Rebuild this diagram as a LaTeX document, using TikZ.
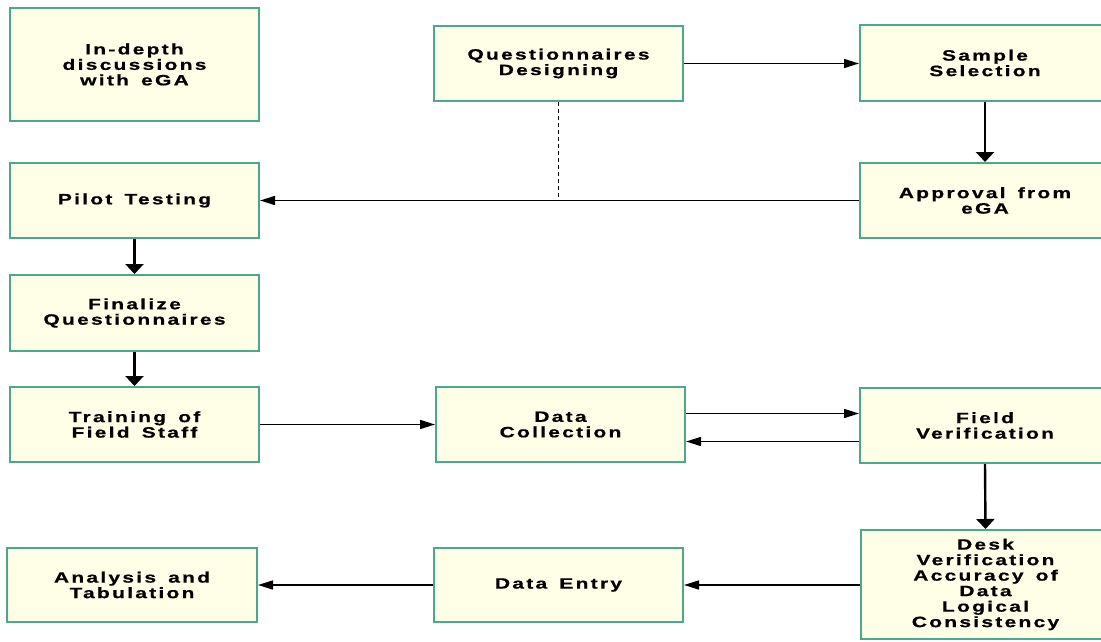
\documentclass[tikz,border=0pt]{standalone}
\usepackage{fontspec}
\usetikzlibrary{arrows.meta}
\newfontfamily\boxfont{Liberation Sans Bold}[FakeStretch=1.4,LetterSpace=15,FakeBold=0.6,WordSpace=1.5]
\definecolor{boxborder}{RGB}{76,168,140}
\definecolor{boxfill}{RGB}{255,255,232}
\tikzset{
  flowbox/.style={draw=boxborder, fill=boxfill, line width=2pt, inner sep=0pt,
    minimum width=249pt, minimum height=75pt, align=center,
    font={\boxfont\fontsize{15}{15.5}\selectfont}},
  harrow/.style={line width=1.6pt, -{Triangle[length=15pt,width=9pt]}},
  varrow/.style={line width=2.4pt, -{Triangle[length=10pt,width=18pt]}},
  dashline/.style={line width=1.7pt, dash pattern=on 4pt off 3pt}
}
\begin{document}
\begin{tikzpicture}[x=1pt,y=-1pt]
\useasboundingbox (0,0) rectangle (1101,642);
\clip (0,0) rectangle (1101,642);
\node[flowbox, minimum height=113pt] (indepth) at (134.5,64.5) {In-depth\\discussions\\with eGA};
\node[flowbox] (pilot) at (134.5,200.5) {Pilot Testing};
\node[flowbox, minimum height=76pt] (final) at (134.5,313) {Finalize\\Questionnaires};
\node[flowbox] (train) at (134.5,424.5) {Training of\\Field Staff};
\node[flowbox, minimum width=250pt, minimum height=74pt] (analysis) at (132,585) {Analysis and\\Tabulation};
\node[flowbox] (qd) at (558.5,63.5) {Questionnaires\\Designing};
\node[flowbox, minimum width=250pt, minimum height=76pt] (sample) at (985,63) {Sample\\Selection};
\node[flowbox, minimum width=250pt] (approval) at (985,200.5) {Approval from\\eGA};
\node[flowbox] (dc) at (560.5,424.5) {Data\\Collection};
\node[flowbox, minimum width=250pt] (fv) at (985,425.5) {Field\\Verification};
\node[flowbox, minimum width=250pt, minimum height=109pt] (desk) at (985.5,584.5) {Desk\\Verification\\Accuracy of\\Data\\Logical\\Consistency};
\node[flowbox, minimum height=74pt] (de) at (558.5,585) {Data Entry};
\coordinate (junc) at (558.5,200.5);
\draw[harrow] (qd.east) -- (qd.east -| sample.west);
\draw[varrow] (sample.south) -- (approval.north);
\draw[harrow] (approval.west) -- (pilot.east);
\draw[dashline] (qd.south) -- (junc);
\draw[varrow] (pilot.south) -- (final.north);
\draw[varrow] (final.south) -- (train.north);
\draw[harrow] (train.east) -- (dc.west);
\draw[harrow] ([yshift=11pt]dc.east) -- ([yshift=11pt]dc.east -| fv.west);
\draw[harrow] ([yshift=-16pt]fv.west) -- ([yshift=-16pt]fv.west -| dc.east);
\draw[varrow] (fv.south) -- (desk.north);
\draw[harrow] (desk.west |- de.east) -- (de.east);
\draw[harrow] (de.west) -- (analysis.east);
\end{tikzpicture}
\end{document}
